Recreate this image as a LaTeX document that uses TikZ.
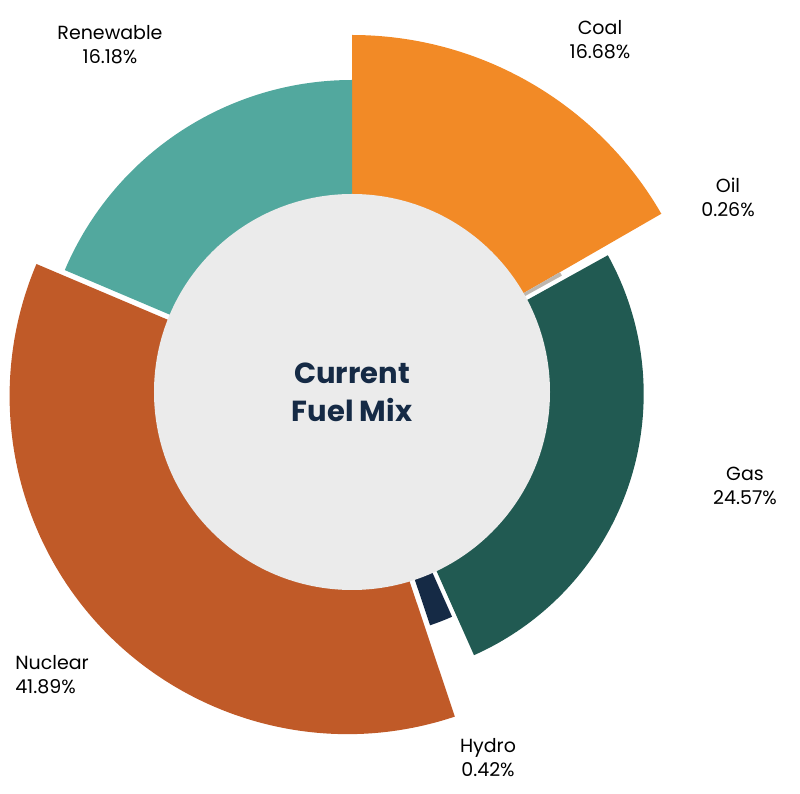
\documentclass[tikz,border=0pt]{standalone}
\usepackage{fontspec}
\setmainfont{Poppins}
\definecolor{coalc}{HTML}{F28A26}
\definecolor{oilc}{HTML}{BDB6AE}
\definecolor{gasc}{HTML}{215A52}
\definecolor{hydroc}{HTML}{152A45}
\definecolor{nuclc}{HTML}{C05A28}
\definecolor{renewc}{HTML}{52A89E}
\definecolor{hubc}{HTML}{EBEBEB}
\newcommand{\fuelslice}[6]{% colour, start, end, radius, shift, name
  \fill[#1, shift={({(#2+#3)/2}:#5pt)}] (0,0) -- (#2:#4pt) arc (#2:#3:#4pt) -- cycle;
  \coordinate (#6) at ({(#2+#3)/2}:#4pt);}
\tikzset{lbl/.style={align=center, font=\fontsize{19}{24}\selectfont, text=black}}
\begin{document}
\begin{tikzpicture}[x=1pt,y=1pt]
\useasboundingbox (-352,-402) rectangle (448,392);
%slices, clockwise from the top
\fuelslice{coalc}{90}{29.95}{357}{0}{coal}
\fuelslice{oilc}{29.95}{29.0}{240}{0}{oil}
\fuelslice{gasc}{29.0}{-66}{286}{6}{gas}
\fuelslice{hydroc}{-66}{-71.5}{246}{0}{hydro}
\fuelslice{renewc}{157}{90}{312}{0}{renew}
\fuelslice{nuclc}{-71.5}{-203}{338}{6}{nuclear}
%centre
\node[circle, fill=hubc, minimum size=396pt, inner sep=0pt] (hub) at (0,0) {};
\node[align=center, text=hydroc, font=\bfseries\fontsize{29}{38}\selectfont] (title) at (hub) {Current\\Fuel Mix};
%labels
\node[lbl] (lcoal) at (248,352) {Coal\\16.68\%};
\node[lbl] (loil) at (376,195) {Oil\\0.26\%};
\node[lbl] (lgas) at (393,-94) {Gas\\24.57\%};
\node[lbl] (lhydro) at (136,-366) {Hydro\\0.42\%};
\node[lbl, align=left] (lnucl) at (-300,-283) {Nuclear\\41.89\%};
\node[lbl] (lrenew) at (-242,347) {Renewable\\16.18\%};
\end{tikzpicture}
\end{document}
